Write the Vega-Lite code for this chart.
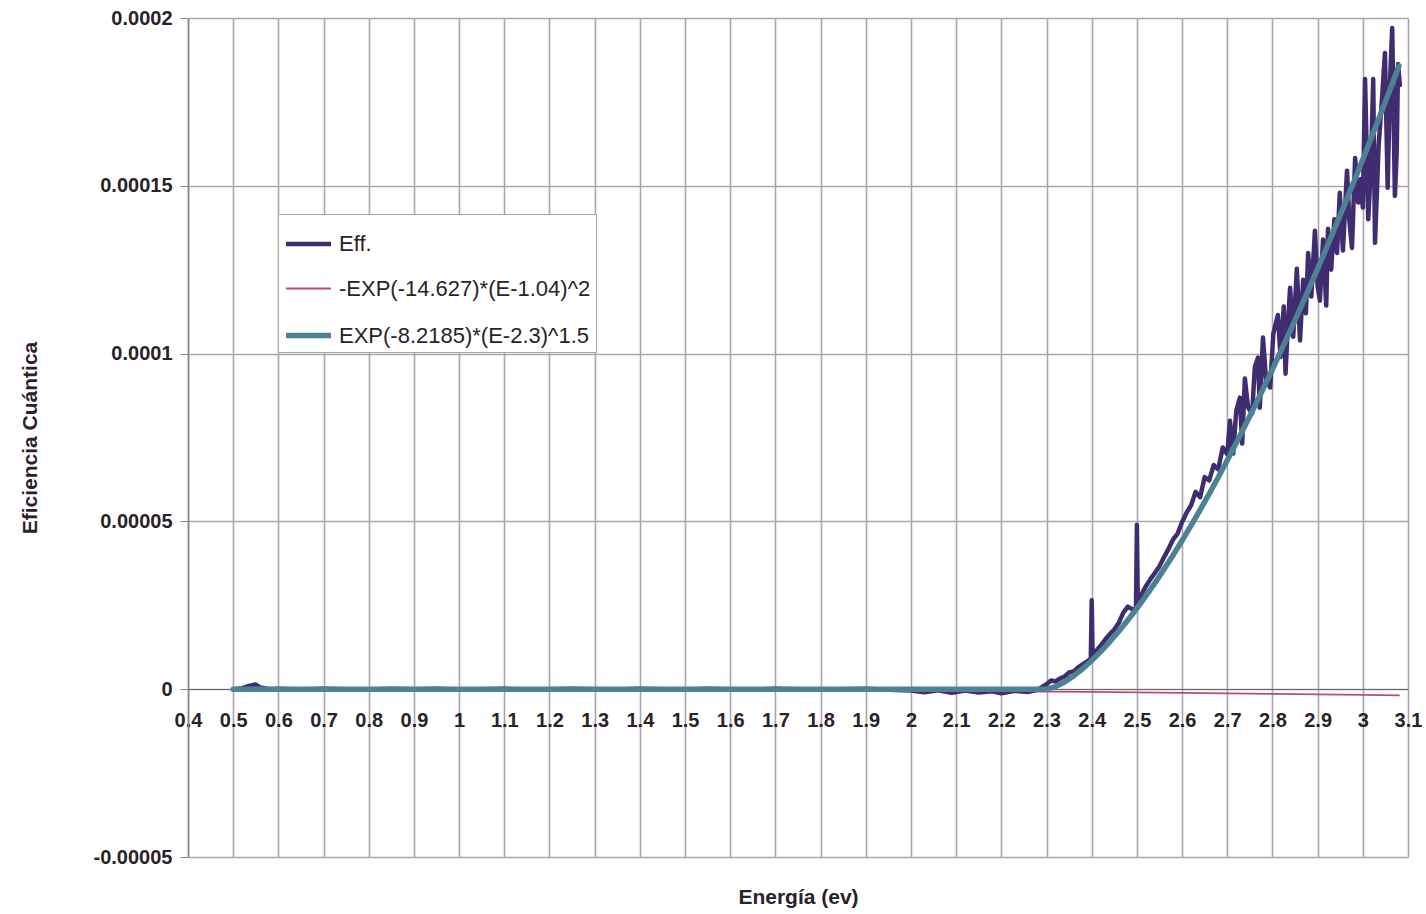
{
  "$schema": "https://vega.github.io/schema/vega-lite/v6.json",
  "width": 1220,
  "height": 839,
  "autosize": {"type": "none"},
  "padding": {"left": 188, "top": 18, "right": 18, "bottom": 57},
  "background": "white",
  "config": {
    "view": {"stroke": null},
    "font": "Liberation Sans",
    "legend": {
      "orient": "none",
      "legendX": 90,
      "legendY": 196,
      "padding": 5,
      "strokeColor": "#a8a8a8",
      "fillColor": "white",
      "symbolType": "stroke",
      "symbolSize": 2025,
      "labelFontSize": 22,
      "labelLimit": 0,
      "labelFont": "Liberation Sans",
      "labelColor": "#2a2228",
      "labelOffset": 5,
      "rowPadding": 10,
      "title": null
    }
  },
  "datasets": {
    "eff": [
      {"E":0.5,"v":0,"s":"Eff."},{"E":0.52,"v":3e-7,"s":"Eff."},{"E":0.535,"v":1.0e-6,"s":"Eff."},{"E":0.55,"v":1.4e-6,"s":"Eff."},{"E":0.56,"v":5e-7,"s":"Eff."},{"E":0.58,"v":0,"s":"Eff."},
      {"E":0.6,"v":1e-7,"s":"Eff."},{"E":0.65,"v":-1e-7,"s":"Eff."},{"E":0.7,"v":1e-7,"s":"Eff."},{"E":0.75,"v":0,"s":"Eff."},{"E":0.8,"v":-1e-7,"s":"Eff."},{"E":0.85,"v":1e-7,"s":"Eff."},{"E":0.9,"v":0,"s":"Eff."},{"E":0.95,"v":1e-7,"s":"Eff."},{"E":1.0,"v":-1e-7,"s":"Eff."},{"E":1.05,"v":0,"s":"Eff."},{"E":1.1,"v":1e-7,"s":"Eff."},{"E":1.15,"v":-1e-7,"s":"Eff."},{"E":1.2,"v":0,"s":"Eff."},{"E":1.25,"v":1e-7,"s":"Eff."},{"E":1.3,"v":0,"s":"Eff."},{"E":1.35,"v":-1e-7,"s":"Eff."},{"E":1.4,"v":1e-7,"s":"Eff."},{"E":1.45,"v":0,"s":"Eff."},{"E":1.5,"v":-1e-7,"s":"Eff."},{"E":1.55,"v":1e-7,"s":"Eff."},{"E":1.6,"v":0,"s":"Eff."},{"E":1.65,"v":-1e-7,"s":"Eff."},{"E":1.7,"v":1e-7,"s":"Eff."},{"E":1.75,"v":0,"s":"Eff."},{"E":1.8,"v":-1e-7,"s":"Eff."},{"E":1.85,"v":0,"s":"Eff."},{"E":1.9,"v":1e-7,"s":"Eff."},{"E":1.95,"v":-2e-7,"s":"Eff."},
      {"E":2.0,"v":-4e-7,"s":"Eff."},{"E":2.03,"v":-9e-7,"s":"Eff."},{"E":2.06,"v":-3e-7,"s":"Eff."},{"E":2.09,"v":-1.1e-6,"s":"Eff."},{"E":2.12,"v":-4e-7,"s":"Eff."},{"E":2.15,"v":-1e-6,"s":"Eff."},{"E":2.18,"v":-6e-7,"s":"Eff."},{"E":2.2,"v":-1.2e-6,"s":"Eff."},{"E":2.23,"v":-5e-7,"s":"Eff."},{"E":2.26,"v":-8e-7,"s":"Eff."},{"E":2.28,"v":-2e-7,"s":"Eff."},
      {"E":2.3,"v":1.5e-6,"s":"Eff."},{"E":2.31,"v":2.6e-6,"s":"Eff."},{"E":2.32,"v":2.3e-6,"s":"Eff."},{"E":2.33,"v":3.2e-6,"s":"Eff."},{"E":2.34,"v":3.8e-6,"s":"Eff."},{"E":2.35,"v":5.0e-6,"s":"Eff."},{"E":2.36,"v":5.3e-6,"s":"Eff."},{"E":2.37,"v":6.5e-6,"s":"Eff."},{"E":2.38,"v":7.4e-6,"s":"Eff."},{"E":2.39,"v":8.3e-6,"s":"Eff."},{"E":2.398,"v":9.0e-6,"s":"Eff."},{"E":2.4,"v":2.65e-5,"s":"Eff."},{"E":2.402,"v":9.8e-6,"s":"Eff."},
      {"E":2.41,"v":1.14e-5,"s":"Eff."},{"E":2.42,"v":1.3e-5,"s":"Eff."},{"E":2.43,"v":1.48e-5,"s":"Eff."},{"E":2.44,"v":1.64e-5,"s":"Eff."},{"E":2.45,"v":1.78e-5,"s":"Eff."},{"E":2.46,"v":1.98e-5,"s":"Eff."},{"E":2.47,"v":2.28e-5,"s":"Eff."},{"E":2.48,"v":2.46e-5,"s":"Eff."},{"E":2.49,"v":2.38e-5,"s":"Eff."},{"E":2.498,"v":2.42e-5,"s":"Eff."},{"E":2.5,"v":4.9e-5,"s":"Eff."},{"E":2.502,"v":2.58e-5,"s":"Eff."},
      {"E":2.51,"v":2.82e-5,"s":"Eff."},{"E":2.52,"v":3.07e-5,"s":"Eff."},{"E":2.53,"v":3.28e-5,"s":"Eff."},{"E":2.54,"v":3.47e-5,"s":"Eff."},{"E":2.55,"v":3.66e-5,"s":"Eff."},{"E":2.56,"v":3.93e-5,"s":"Eff."},{"E":2.57,"v":4.18e-5,"s":"Eff."},{"E":2.58,"v":4.46e-5,"s":"Eff."},{"E":2.59,"v":4.63e-5,"s":"Eff."},{"E":2.6,"v":4.98e-5,"s":"Eff."},{"E":2.61,"v":5.26e-5,"s":"Eff."},{"E":2.62,"v":5.48e-5,"s":"Eff."},{"E":2.63,"v":5.88e-5,"s":"Eff."},{"E":2.64,"v":5.72e-5,"s":"Eff."},{"E":2.65,"v":6.32e-5,"s":"Eff."},{"E":2.66,"v":6.22e-5,"s":"Eff."},{"E":2.67,"v":6.68e-5,"s":"Eff."},{"E":2.68,"v":6.55e-5,"s":"Eff."},{"E":2.69,"v":7.2e-5,"s":"Eff."},{"E":2.7,"v":7.0e-5,"s":"Eff."},
      {"E":2.706,"v":8.0e-5,"s":"Eff."},{"E":2.713,"v":7.02e-5,"s":"Eff."},{"E":2.72,"v":8.3e-5,"s":"Eff."},{"E":2.728,"v":8.69e-5,"s":"Eff."},{"E":2.733,"v":7.32e-5,"s":"Eff."},{"E":2.739,"v":9.26e-5,"s":"Eff."},{"E":2.746,"v":8.4e-5,"s":"Eff."},{"E":2.755,"v":8.21e-5,"s":"Eff."},{"E":2.761,"v":9.6e-5,"s":"Eff."},{"E":2.768,"v":9.88e-5,"s":"Eff."},{"E":2.772,"v":8.39e-5,"s":"Eff."},{"E":2.779,"v":1.048e-4,"s":"Eff."},{"E":2.786,"v":9.2e-5,"s":"Eff."},{"E":2.795,"v":8.99e-5,"s":"Eff."},{"E":2.802,"v":1.06e-4,"s":"Eff."},{"E":2.812,"v":1.115e-4,"s":"Eff."},{"E":2.818,"v":9.9e-5,"s":"Eff."},{"E":2.825,"v":1.14e-4,"s":"Eff."},{"E":2.829,"v":9.4e-5,"s":"Eff."},{"E":2.834,"v":1.08e-4,"s":"Eff."},{"E":2.839,"v":1.196e-4,"s":"Eff."},{"E":2.846,"v":1.05e-4,"s":"Eff."},{"E":2.854,"v":1.253e-4,"s":"Eff."},{"E":2.861,"v":1.039e-4,"s":"Eff."},{"E":2.868,"v":1.22e-4,"s":"Eff."},{"E":2.874,"v":1.12e-4,"s":"Eff."},{"E":2.879,"v":1.3e-4,"s":"Eff."},{"E":2.886,"v":1.17e-4,"s":"Eff."},{"E":2.894,"v":1.366e-4,"s":"Eff."},{"E":2.9,"v":1.2e-4,"s":"Eff."},{"E":2.905,"v":1.158e-4,"s":"Eff."},{"E":2.912,"v":1.34e-4,"s":"Eff."},{"E":2.919,"v":1.143e-4,"s":"Eff."},{"E":2.923,"v":1.372e-4,"s":"Eff."},{"E":2.93,"v":1.25e-4,"s":"Eff."},{"E":2.937,"v":1.4e-4,"s":"Eff."},{"E":2.943,"v":1.3e-4,"s":"Eff."},{"E":2.949,"v":1.479e-4,"s":"Eff."},{"E":2.956,"v":1.307e-4,"s":"Eff."},{"E":2.965,"v":1.545e-4,"s":"Eff."},{"E":2.97,"v":1.4e-4,"s":"Eff."},{"E":2.976,"v":1.315e-4,"s":"Eff."},{"E":2.983,"v":1.583e-4,"s":"Eff."},{"E":2.99,"v":1.45e-4,"s":"Eff."},{"E":2.996,"v":1.52e-4,"s":"Eff."},{"E":3.0,"v":1.435e-4,"s":"Eff."},{"E":3.005,"v":1.818e-4,"s":"Eff."},{"E":3.012,"v":1.4e-4,"s":"Eff."},{"E":3.018,"v":1.56e-4,"s":"Eff."},{"E":3.023,"v":1.818e-4,"s":"Eff."},{"E":3.027,"v":1.33e-4,"s":"Eff."},{"E":3.035,"v":1.62e-4,"s":"Eff."},{"E":3.042,"v":1.75e-4,"s":"Eff."},{"E":3.049,"v":1.896e-4,"s":"Eff."},{"E":3.055,"v":1.494e-4,"s":"Eff."},{"E":3.06,"v":1.8e-4,"s":"Eff."},{"E":3.065,"v":1.97e-4,"s":"Eff."},{"E":3.071,"v":1.47e-4,"s":"Eff."},{"E":3.075,"v":1.6e-4,"s":"Eff."},{"E":3.078,"v":1.863e-4,"s":"Eff."},{"E":3.082,"v":1.8e-4,"s":"Eff."}
    ],
    "pink": [
      {"E":0.5,"v":-1.3e-7,"s":"-EXP(-14.627)*(E-1.04)^2"},{"E":1.04,"v":0,"s":"-EXP(-14.627)*(E-1.04)^2"},{"E":1.5,"v":-9.4e-8,"s":"-EXP(-14.627)*(E-1.04)^2"},{"E":2.0,"v":-4.08e-7,"s":"-EXP(-14.627)*(E-1.04)^2"},{"E":2.3,"v":-7.03e-7,"s":"-EXP(-14.627)*(E-1.04)^2"},{"E":2.4,"v":-8.19e-7,"s":"-EXP(-14.627)*(E-1.04)^2"},{"E":2.5,"v":-9.44e-7,"s":"-EXP(-14.627)*(E-1.04)^2"},{"E":2.6,"v":-1.078e-6,"s":"-EXP(-14.627)*(E-1.04)^2"},{"E":2.7,"v":-1.221e-6,"s":"-EXP(-14.627)*(E-1.04)^2"},{"E":2.8,"v":-1.372e-6,"s":"-EXP(-14.627)*(E-1.04)^2"},{"E":2.9,"v":-1.533e-6,"s":"-EXP(-14.627)*(E-1.04)^2"},{"E":3.0,"v":-1.702e-6,"s":"-EXP(-14.627)*(E-1.04)^2"},{"E":3.08,"v":-1.844e-6,"s":"-EXP(-14.627)*(E-1.04)^2"}
    ],
    "fit": [
      {"E":0.5,"v":0,"s":"EXP(-8.2185)*(E-2.3)^1.5"},{"E":2.3,"v":0,"s":"EXP(-8.2185)*(E-2.3)^1.5"},{"E":2.32,"v":7.62e-7,"s":"EXP(-8.2185)*(E-2.3)^1.5"},{"E":2.34,"v":2.157e-6,"s":"EXP(-8.2185)*(E-2.3)^1.5"},{"E":2.36,"v":3.96e-6,"s":"EXP(-8.2185)*(E-2.3)^1.5"},{"E":2.38,"v":6.1e-6,"s":"EXP(-8.2185)*(E-2.3)^1.5"},{"E":2.4,"v":8.53e-6,"s":"EXP(-8.2185)*(E-2.3)^1.5"},{"E":2.42,"v":1.121e-5,"s":"EXP(-8.2185)*(E-2.3)^1.5"},{"E":2.44,"v":1.412e-5,"s":"EXP(-8.2185)*(E-2.3)^1.5"},{"E":2.46,"v":1.725e-5,"s":"EXP(-8.2185)*(E-2.3)^1.5"},{"E":2.48,"v":2.059e-5,"s":"EXP(-8.2185)*(E-2.3)^1.5"},{"E":2.5,"v":2.411e-5,"s":"EXP(-8.2185)*(E-2.3)^1.5"},{"E":2.52,"v":2.782e-5,"s":"EXP(-8.2185)*(E-2.3)^1.5"},{"E":2.54,"v":3.17e-5,"s":"EXP(-8.2185)*(E-2.3)^1.5"},{"E":2.56,"v":3.574e-5,"s":"EXP(-8.2185)*(E-2.3)^1.5"},{"E":2.58,"v":3.994e-5,"s":"EXP(-8.2185)*(E-2.3)^1.5"},{"E":2.6,"v":4.43e-5,"s":"EXP(-8.2185)*(E-2.3)^1.5"},{"E":2.62,"v":4.88e-5,"s":"EXP(-8.2185)*(E-2.3)^1.5"},{"E":2.64,"v":5.345e-5,"s":"EXP(-8.2185)*(E-2.3)^1.5"},{"E":2.66,"v":5.823e-5,"s":"EXP(-8.2185)*(E-2.3)^1.5"},{"E":2.68,"v":6.315e-5,"s":"EXP(-8.2185)*(E-2.3)^1.5"},{"E":2.7,"v":6.82e-5,"s":"EXP(-8.2185)*(E-2.3)^1.5"},{"E":2.72,"v":7.338e-5,"s":"EXP(-8.2185)*(E-2.3)^1.5"},{"E":2.74,"v":7.869e-5,"s":"EXP(-8.2185)*(E-2.3)^1.5"},{"E":2.76,"v":8.411e-5,"s":"EXP(-8.2185)*(E-2.3)^1.5"},{"E":2.78,"v":8.966e-5,"s":"EXP(-8.2185)*(E-2.3)^1.5"},{"E":2.8,"v":9.532e-5,"s":"EXP(-8.2185)*(E-2.3)^1.5"},{"E":2.82,"v":1.0109e-4,"s":"EXP(-8.2185)*(E-2.3)^1.5"},{"E":2.84,"v":1.0698e-4,"s":"EXP(-8.2185)*(E-2.3)^1.5"},{"E":2.86,"v":1.1298e-4,"s":"EXP(-8.2185)*(E-2.3)^1.5"},{"E":2.88,"v":1.1909e-4,"s":"EXP(-8.2185)*(E-2.3)^1.5"},{"E":2.9,"v":1.253e-4,"s":"EXP(-8.2185)*(E-2.3)^1.5"},{"E":2.92,"v":1.3162e-4,"s":"EXP(-8.2185)*(E-2.3)^1.5"},{"E":2.94,"v":1.3803e-4,"s":"EXP(-8.2185)*(E-2.3)^1.5"},{"E":2.96,"v":1.4455e-4,"s":"EXP(-8.2185)*(E-2.3)^1.5"},{"E":2.98,"v":1.5117e-4,"s":"EXP(-8.2185)*(E-2.3)^1.5"},{"E":3.0,"v":1.5789e-4,"s":"EXP(-8.2185)*(E-2.3)^1.5"},{"E":3.02,"v":1.6471e-4,"s":"EXP(-8.2185)*(E-2.3)^1.5"},{"E":3.04,"v":1.7162e-4,"s":"EXP(-8.2185)*(E-2.3)^1.5"},{"E":3.06,"v":1.7862e-4,"s":"EXP(-8.2185)*(E-2.3)^1.5"},{"E":3.08,"v":1.8572e-4,"s":"EXP(-8.2185)*(E-2.3)^1.5"}
    ]
  },
  "encoding": {
    "x": {
      "field": "E", "type": "quantitative",
      "scale": {"domain": [0.4, 3.1], "nice": false, "zero": false},
      "axis": {
        "values": [0.4,0.5,0.6,0.7,0.8,0.9,1,1.1,1.2,1.3,1.4,1.5,1.6,1.7,1.8,1.9,2,2.1,2.2,2.3,2.4,2.5,2.6,2.7,2.8,2.9,3,3.1],
        "format": "~g",
        "offset": -168,
        "ticks": false,
        "labelPadding": 21,
        "labelFontSize": 20,
        "labelFontWeight": "bold",
        "labelColor": "#2a2228",
        "labelFlush": false,
        "labelOverlap": false,
        "domainColor": "#6a6468",
        "domainWidth": 1,
        "grid": true,
        "gridColor": "#aaa4ac",
        "gridWidth": 1.6,
        "title": "Energía (ev)",
        "titleFontSize": 21,
        "titleFontWeight": "bold",
        "titleColor": "#2a2228",
        "titleY": 208,
        "titleBaseline": "middle"
      }
    },
    "y": {
      "field": "v", "type": "quantitative",
      "scale": {"domain": [-0.00005, 0.0002], "nice": false, "zero": false},
      "axis": {
        "values": [-0.00005, 0, 0.00005, 0.0001, 0.00015, 0.0002],
        "labelExpr": "replace(format(datum.value, '~r'), '−', '-')",
        "labelFontSize": 20,
        "labelFontWeight": "bold",
        "labelColor": "#2a2228",
        "labelPadding": 8,
        "tickSize": 8,
        "tickColor": "#8a8488",
        "domainColor": "#8a8488",
        "domainWidth": 1.5,
        "grid": true,
        "gridColor": "#aaa4ac",
        "gridWidth": 1.6,
        "title": "Eficiencia Cuántica",
        "titleFontSize": 21,
        "titleFontWeight": "bold",
        "titleColor": "#2a2228",
        "titleX": -158,
        "titleBaseline": "middle"
      }
    },
    "color": {
      "field": "s", "type": "nominal",
      "scale": {
        "domain": ["Eff.", "-EXP(-14.627)*(E-1.04)^2", "EXP(-8.2185)*(E-2.3)^1.5"],
        "range": ["#402c70", "#b84a80", "#4d8294"]
      },
      "legend": {}
    },
    "strokeWidth": {
      "field": "s", "type": "nominal",
      "scale": {
        "type": "ordinal",
        "domain": ["Eff.", "-EXP(-14.627)*(E-1.04)^2", "EXP(-8.2185)*(E-2.3)^1.5"],
        "range": [4.5, 1.8, 5.5]
      },
      "legend": {}
    }
  },
  "layer": [
    {"data": {"name": "pink"}, "mark": {"type": "line", "strokeCap": "round"}},
    {"data": {"name": "eff"}, "mark": {"type": "line", "strokeCap": "round", "strokeJoin": "round"}},
    {"data": {"name": "fit"}, "mark": {"type": "line", "strokeCap": "round", "strokeJoin": "round"}}
  ]
}
